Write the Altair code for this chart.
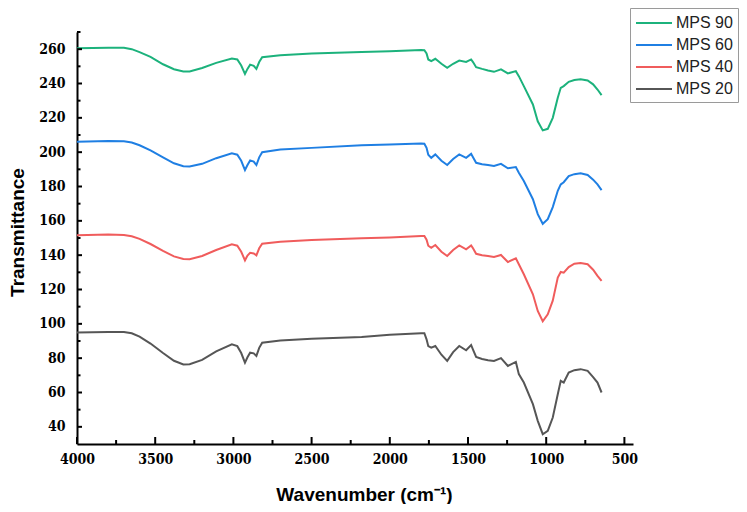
import altair as alt
import pandas as pd

# Wavenumber positions (cm-1) at which the spectra were read
WN = [4000, 3800, 3700, 3650, 3600, 3530, 3450, 3380, 3320, 3280, 3200, 3110,
      3010, 2975, 2950, 2926, 2910, 2893, 2870, 2853, 2835, 2816, 2700, 2500,
      2180, 2000, 1800, 1779, 1765, 1754, 1735, 1709, 1670, 1633, 1595, 1556,
      1512, 1480, 1468, 1448, 1410, 1372, 1334, 1289, 1245, 1194, 1175, 1143,
      1085, 1054, 1022, 990, 958, 926, 907, 888, 856, 820, 780, 735, 700, 672, 646]

MPS90 = [260.5, 260.8, 260.8, 260.0, 258.3, 255.5, 251.2, 248.3, 247.0, 247.0, 249.0, 252.0,
         254.6, 254.0, 250.5, 245.6, 248.5, 251.0, 250.3, 248.5, 252.5, 255.3, 256.5, 257.5,
         258.3, 258.8, 259.5, 259.4, 257.5, 254.0, 253.0, 254.4, 251.5, 249.1, 251.5, 253.4,
         252.6, 254.0, 252.5, 249.5, 248.5, 247.6, 246.8, 248.2, 245.9, 247.2, 244.3, 238.5,
         227.8, 218.0, 212.7, 213.6, 220.0, 231.7, 237.5, 238.5, 241.0, 242.0, 242.4, 241.8, 239.5, 236.5, 233.2]

MPS60 = [206.1, 206.5, 206.4, 205.6, 204.0, 201.0, 197.0, 193.5, 191.8, 191.6, 193.2, 196.5,
         199.3, 198.5, 195.0, 189.6, 192.5, 195.2, 194.5, 192.5, 197.0, 200.0, 201.5, 202.5,
         204.0, 204.5, 205.0, 204.9, 202.5, 198.5, 196.7, 198.7, 195.0, 192.5, 196.0, 198.7,
         196.7, 199.0, 197.0, 193.8, 193.0, 192.5, 191.9, 193.2, 190.6, 191.3, 188.0, 183.2,
         172.6, 163.9, 158.3, 161.0, 168.0, 177.5, 181.2, 182.5, 186.1, 187.2, 187.7, 186.7, 184.0, 181.2, 177.9]

MPS40 = [151.6, 152.0, 151.8, 151.0, 149.5, 146.5, 142.5, 139.3, 137.8, 137.6, 139.5, 143.0,
         146.3, 145.5, 142.0, 137.0, 139.8, 141.4, 141.0, 139.9, 144.0, 146.7, 147.8, 148.8,
         149.8, 150.3, 151.2, 151.2, 149.0, 145.5, 144.3, 145.9, 142.0, 139.5, 143.0, 145.7,
         143.4, 145.7, 144.0, 140.8, 140.0, 139.5, 138.9, 140.1, 136.0, 138.2, 134.7, 128.9,
         117.2, 107.5, 101.5, 105.5, 113.5, 126.9, 130.2, 129.8, 133.1, 135.0, 135.4, 134.7, 131.5, 127.9, 125.0]

MPS20 = [94.9, 95.2, 95.3, 94.5, 92.5, 88.5, 83.0, 78.5, 76.3, 76.5, 79.0, 84.0,
         88.1, 87.0, 83.0, 77.4, 80.5, 83.2, 82.8, 81.3, 86.0, 89.0, 90.3, 91.3,
         92.4, 93.6, 94.5, 94.5, 91.0, 87.0, 86.1, 87.1, 82.0, 78.4, 83.5, 87.1,
         84.6, 87.7, 85.0, 80.7, 79.5, 78.8, 78.4, 80.0, 75.5, 77.8, 70.7, 65.8,
         53.2, 43.5, 35.7, 37.7, 45.4, 59.0, 66.8, 65.8, 71.6, 73.0, 73.6, 72.6, 69.0, 65.8, 60.0]

SERIES = ["MPS 90", "MPS 60", "MPS 40", "MPS 20"]
COLORS = ["#1cb27c", "#1f7fe3", "#f05c5c", "#565656"]

X_MAJOR = [4000, 3500, 3000, 2500, 2000, 1500, 1000, 500]
X_MINOR = [3750, 3250, 2750, 2250, 1750, 1250, 750]
Y_MAJOR = [40, 60, 80, 100, 120, 140, 160, 180, 200, 220, 240, 260]
Y_MINOR = [50, 70, 90, 110, 130, 150, 170, 190, 210, 230, 250, 270]

rows = []
for name, vals in zip(SERIES, [MPS90, MPS60, MPS40, MPS20]):
    for w, v in zip(WN, vals):
        rows.append({"wn": w, "val": v, "series": name})
df = pd.DataFrame(rows)

W, H = 556, 412
xscale = alt.Scale(domain=[445, 4000], reverse=True, nice=False, zero=False)
yscale = alt.Scale(domain=[30, 270], nice=False, zero=False)

SERIF = "'DejaVu Serif Condensed', 'DejaVu Serif', serif"
SANS = "Liberation Sans"
LSIZE = 14

xaxis = alt.Axis(
    values=X_MAJOR, format="d", ticks=False, tickSize=0, grid=False,
    labelFont=SERIF, labelFontWeight="bold", labelFontSize=LSIZE,
    labelColor="black", labelPadding=8, labelFlush=False,
    domainColor="black", domainWidth=2,
    title="Wavenumber (cm⁻¹)", titleFont=SANS, titleFontSize=19,
    titleFontWeight="bold", titleColor="black", titleX=287, titleY=56,
    titleAlign="center", titleBaseline="alphabetic")
yaxis = alt.Axis(
    values=Y_MAJOR, format="d", ticks=False, tickSize=0, grid=False,
    labelFont=SERIF, labelFontWeight="bold", labelFontSize=LSIZE,
    labelColor="black", labelPadding=12, labelFlush=False,
    domainColor="black", domainWidth=2,
    title="Transmittance", titleFont=SANS, titleFontSize=19,
    titleFontWeight="bold", titleColor="black", titleX=-60, titleY=200,
    titleAlign="center", titleBaseline="middle", titleAngle=270)

lines = alt.Chart(df).mark_line(strokeWidth=2).encode(
    x=alt.X("wn:Q", scale=xscale, axis=xaxis, title="Wavenumber (cm⁻¹)"),
    y=alt.Y("val:Q", scale=yscale, axis=yaxis, title="Transmittance"),
    color=alt.Color("series:N", scale=alt.Scale(domain=SERIES, range=COLORS),
                    legend=alt.Legend(
                        title=None, orient="none", legendX=553, legendY=-24,
                        strokeColor="#9a9a9a", fillColor="white", padding=5,
                        labelFont=SANS, labelFontSize=16, labelColor="#222222",
                        symbolType="M-1,0H3", symbolSize=324, symbolStrokeWidth=2,
                        labelOffset=21, rowPadding=4)),
)

xt_major = alt.Chart(pd.DataFrame({"wn": X_MAJOR})).mark_rule(color="black", strokeWidth=2).encode(
    x=alt.X("wn:Q", scale=xscale, axis=xaxis, title="Wavenumber (cm⁻¹)"),
    y=alt.value(H), y2=alt.value(H - 7))
xt_minor = alt.Chart(pd.DataFrame({"wn": X_MINOR})).mark_rule(color="black", strokeWidth=2).encode(
    x=alt.X("wn:Q", scale=xscale, axis=xaxis, title="Wavenumber (cm⁻¹)"),
    y=alt.value(H), y2=alt.value(H - 4))
yt_major = alt.Chart(pd.DataFrame({"val": Y_MAJOR})).mark_rule(color="black", strokeWidth=2).encode(
    y=alt.Y("val:Q", scale=yscale, axis=yaxis, title="Transmittance"),
    x=alt.value(0), x2=alt.value(5))
yt_minor = alt.Chart(pd.DataFrame({"val": Y_MINOR})).mark_rule(color="black", strokeWidth=2).encode(
    y=alt.Y("val:Q", scale=yscale, axis=yaxis, title="Transmittance"),
    x=alt.value(0), x2=alt.value(3.5))

chart = alt.layer(lines, xt_major, xt_minor, yt_major, yt_minor).properties(
    width=W, height=H,
    autosize=alt.AutoSizeParams(type="none"),
    padding={"left": 69, "top": 24, "right": 106, "bottom": 60},
).configure(
    background="white",
    view=alt.ViewConfig(stroke=None),
    axis=alt.AxisConfig(labelFont=SERIF, labelFontWeight="bold", labelFontSize=LSIZE,
                        titleFont=SANS, titleFontWeight="bold"),
)

chart.save("out.html", embed_options={"renderer": "svg", "actions": False})
